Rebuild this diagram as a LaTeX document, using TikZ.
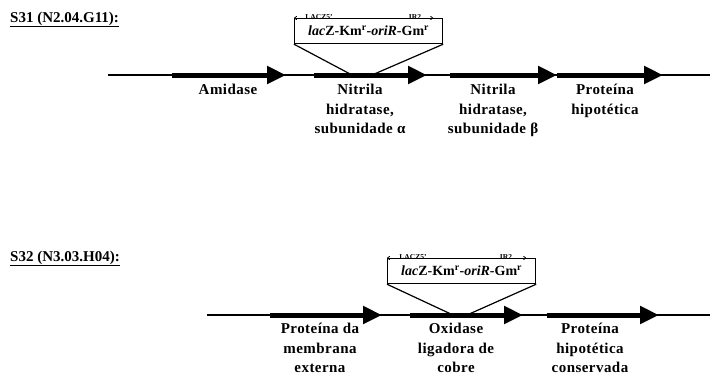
\documentclass[tikz,border=0pt]{standalone}
\usepackage{fontspec}
\setmainfont{Liberation Serif}
\usetikzlibrary{arrows.meta,positioning}

\tikzset{
    backbone/.style={line width=1.2pt},
    gene/.style={line width=5pt, -{Triangle[length=19pt,width=17pt]}},
    genelbl/.style={anchor=north, align=center, inner sep=0pt,
        font=\fontsize{15}{19.5}\selectfont\bfseries\addfontfeatures{LetterSpace=3}},
    strain/.style={anchor=base west, inner sep=0pt,
        font=\fontsize{15}{17}\selectfont\bfseries},
    insbox/.style={draw, line width=1.2pt, anchor=north west, inner sep=0pt,
        minimum width=148pt, minimum height=25pt,
        font=\fontsize{14}{17}\selectfont\bfseries},
    tag/.style={line width=0.8pt, {To[length=3pt,width=4pt]}-{To[length=3pt,width=4pt]}},
    tagtxt/.style={inner sep=0pt, font=\fontsize{7.5}{8}\selectfont\bfseries},
}
\newcommand{\cassette}{\textit{lac}Z-Km\textsuperscript{r}-\textit{oriR}-Gm\textsuperscript{r}}

\begin{document}
\begin{tikzpicture}[x=1pt,y=-1pt]
    \useasboundingbox (0,0) rectangle (710,376);

    % S31: amidase / nitrile hydratase cluster
    \node[strain] (s31) at (10,22) {\underline{S31 (N2.04.G11):}};
    \draw[backbone] (108,75) -- (710,75);
    \draw[gene] (172,75) -- (286,75);
    \draw[gene] (314,75) -- (427,75);
    \draw[gene] (450,75) -- (557,75);
    \draw[gene] (557,75) -- (663,75);
    \node[genelbl] (amid) at (228,84) {Amidase};
    \node[genelbl] (nha) at (360,84) {Nitrila\\hidratase,\\subunidade α};
    \node[genelbl] (nhb) at (493,84) {Nitrila\\hidratase,\\subunidade β};
    \node[genelbl] (hyp31) at (605,84) {Proteína\\hipotética};
    % transposon insertion
    \node[insbox] (ins31) at (294,18) {\cassette};
    \coordinate (cut31a) at (352,75);
    \coordinate (cut31b) at (372,75);
    \draw[line width=1.2pt] (ins31.south west) -- (cut31a);
    \draw[line width=1.2pt] (ins31.south east) -- (cut31b);
    \draw[tag] (ins31.north west) -- ([xshift=-10pt]ins31.north east);
    \node[tagtxt] (lz31) at ([xshift=25pt,yshift=1pt]ins31.north west) {LACZ5'};
    \node[tagtxt] (ir31) at ([xshift=121pt,yshift=1pt]ins31.north west) {IR2};

    % S32: outer membrane protein / copper oxidase
    \node[strain] (s32) at (10,261) {\underline{S32 (N3.03.H04):}};
    \draw[backbone] (207,315) -- (710,315);
    \draw[gene] (270,315) -- (382,315);
    \draw[gene] (410,315) -- (523,315);
    \draw[gene] (547,315) -- (659,315);
    \node[genelbl] (omp) at (320,323) {Proteína da\\membrana\\externa};
    \node[genelbl] (oxi) at (456,323) {Oxidase\\ligadora de\\cobre};
    \node[genelbl] (hyp32) at (590,323) {Proteína\\hipotética\\conservada};
    % transposon insertion
    \node[insbox] (ins32) at (387,258) {\cassette};
    \coordinate (cut32a) at (453,315);
    \coordinate (cut32b) at (467,315);
    \draw[line width=1.2pt] (ins32.south west) -- (cut32a);
    \draw[line width=1.2pt] (ins32.south east) -- (cut32b);
    \draw[tag] (ins32.north west) -- ([xshift=-10pt]ins32.north east);
    \node[tagtxt] (lz32) at ([xshift=26pt,yshift=1pt]ins32.north west) {LACZ5'};
    \node[tagtxt] (ir32) at ([xshift=119pt,yshift=1pt]ins32.north west) {IR2};
\end{tikzpicture}
\end{document}
